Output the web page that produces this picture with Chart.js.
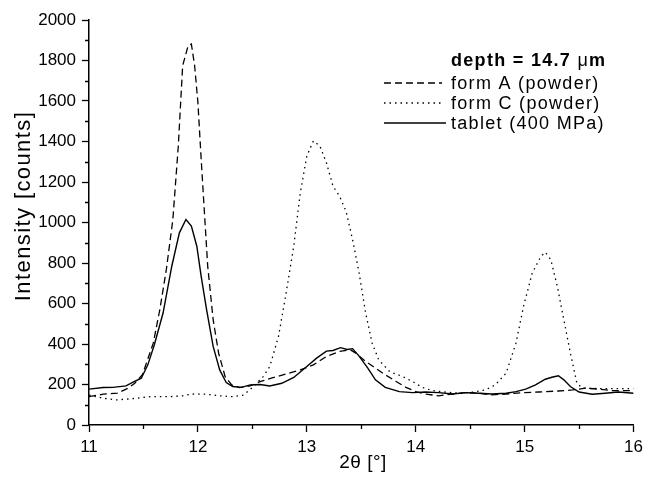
<!DOCTYPE html>
<html>
<head>
<meta charset="utf-8">
<script src="https://cdn.jsdelivr.net/npm/chart.js@4"></script>
<style>
  body { margin: 0; background: #fff; }
  #wrap { width: 648px; height: 480px; }
</style>
</head>
<body>
<div id="wrap"><canvas id="grafico" width="648" height="480"></canvas></div>
<script>
// dados (2theta em graus, intensidade em counts)
var xFormA = [11.0, 11.13, 11.26, 11.36, 11.42, 11.49, 11.59, 11.65, 11.71, 11.77, 11.82, 11.86, 11.91, 11.94, 11.97, 12.0, 12.03, 12.06, 12.09, 12.14, 12.19, 12.25, 12.31, 12.38, 12.48, 12.57, 12.69, 12.81, 12.94, 13.06, 13.18, 13.30, 13.40, 13.45, 13.54, 13.63, 13.72, 13.82, 13.91, 14.0, 14.09, 14.21, 14.34, 14.46, 14.58, 14.70, 14.83, 14.98, 15.13, 15.31, 15.44, 15.56, 15.68, 15.80, 16.0]
var yFormA = [140, 152, 157, 182, 206, 248, 404, 569, 767, 1015, 1378, 1774, 1873, 1881, 1774, 1592, 1312, 1048, 784, 520, 355, 239, 198, 185, 193, 214, 234, 252, 272, 297, 338, 363, 371, 355, 314, 281, 248, 215, 186, 165, 153, 144, 153, 160, 157, 149, 153, 160, 163, 168, 173, 182, 177, 170, 170]

var xFormC = [11.0, 11.13, 11.25, 11.40, 11.56, 11.74, 11.86, 11.95, 12.08, 12.20, 12.32, 12.42, 12.51, 12.60, 12.66, 12.74, 12.81, 12.88, 12.94, 13.0, 13.06, 13.12, 13.18, 13.24, 13.30, 13.36, 13.42, 13.48, 13.54, 13.60, 13.66, 13.76, 13.88, 13.97, 14.06, 14.15, 14.28, 14.40, 14.52, 14.64, 14.73, 14.83, 14.92, 14.99, 15.07, 15.15, 15.19, 15.24, 15.30, 15.36, 15.42, 15.48, 15.53, 15.68, 15.83, 16.0]
var yFormC = [148, 132, 124, 130, 140, 140, 144, 153, 152, 144, 140, 148, 190, 239, 289, 437, 652, 883, 1147, 1328, 1403, 1378, 1295, 1180, 1130, 1056, 916, 751, 553, 404, 322, 264, 239, 215, 186, 170, 162, 157, 162, 173, 198, 256, 404, 586, 751, 833, 853, 817, 685, 520, 355, 206, 182, 180, 180, 180]

var xTablet = [11.0, 11.13, 11.22, 11.34, 11.40, 11.48, 11.54, 11.60, 11.68, 11.76, 11.83, 11.89, 11.94, 11.99, 12.03, 12.08, 12.14, 12.20, 12.26, 12.32, 12.40, 12.48, 12.57, 12.66, 12.77, 12.88, 13.0, 13.09, 13.18, 13.24, 13.31, 13.37, 13.42, 13.48, 13.56, 13.63, 13.72, 13.85, 13.97, 14.09, 14.21, 14.34, 14.46, 14.58, 14.70, 14.83, 14.92, 15.01, 15.10, 15.19, 15.25, 15.31, 15.36, 15.42, 15.50, 15.62, 15.74, 15.86, 16.0]
var yTablet = [177, 185, 186, 193, 210, 231, 297, 396, 553, 784, 949, 1015, 982, 883, 734, 569, 388, 272, 210, 190, 186, 198, 200, 193, 206, 235, 289, 330, 365, 368, 382, 373, 377, 340, 281, 223, 186, 165, 160, 163, 160, 153, 160, 157, 153, 157, 165, 177, 198, 226, 236, 243, 223, 190, 163, 152, 157, 163, 157]

var nomes = ['form A (powder)', 'form C (powder)', 'tablet (400 MPa)']
var tracos = [[7, 4], [1.5, 4], []]
var xMenores = [11.5, 12.5, 13.5, 14.5, 15.5]
var yMenores = [100, 300, 500, 700, 900, 1100, 1300, 1500, 1700, 1900]

var fonte = 'Liberation Sans, Arial, sans-serif'

function pontos(xs, ys) {
    return xs.map(function (x, i) { return { x: x, y: ys[i] } })
}

// legenda, titulos dos eixos e ticks menores
var extras = {
    id: 'extras',
    afterDraw: function (chart) {
        var ctx = chart.ctx
        var sx = chart.scales.x
        var sy = chart.scales.y
        ctx.save()
        ctx.strokeStyle = '#000'
        ctx.lineWidth = 1.3
        ctx.beginPath()
        xMenores.forEach(function (v) {
            var px = Math.round(sx.getPixelForValue(v)) + 0.5
            ctx.moveTo(px, sy.bottom)
            ctx.lineTo(px, sy.bottom + 4)
        })
        yMenores.forEach(function (v) {
            var py = Math.round(sy.getPixelForValue(v)) + 0.5
            ctx.moveTo(sx.left, py)
            ctx.lineTo(sx.left - 4, py)
        })
        ctx.stroke()

        ctx.fillStyle = '#000'
        ctx.textBaseline = 'alphabetic'

        // titulo eixo y
        ctx.save()
        ctx.translate(30, 206)
        ctx.rotate(-Math.PI / 2)
        ctx.font = '22px ' + fonte
        ctx.letterSpacing = '1.4px'
        ctx.textAlign = 'center'
        ctx.fillText('Intensity [counts]', 0, 0)
        ctx.restore()

        // titulo eixo x
        ctx.save()
        ctx.font = '19px ' + fonte
        ctx.letterSpacing = '0.5px'
        ctx.textAlign = 'center'
        ctx.fillText('2θ [°]', 363, 468)
        ctx.restore()

        // legenda
        ctx.save()
        ctx.textAlign = 'left'
        ctx.letterSpacing = '1.3px'
        var x0 = 451
        ctx.font = 'bold 18px ' + fonte
        ctx.fillText('depth = 14.7 ', x0, 66)
        var w = ctx.measureText('depth = 14.7 ').width
        ctx.font = '18px ' + fonte
        ctx.fillText('μ', x0 + w, 66)
        var w2 = ctx.measureText('μ').width
        ctx.font = 'bold 18px ' + fonte
        ctx.fillText('m', x0 + w + w2, 66)

        ctx.font = '18px ' + fonte
        var bases = [89, 109, 129]
        nomes.forEach(function (nome, i) {
            ctx.fillText(nome, x0, bases[i])
            ctx.beginPath()
            ctx.setLineDash(tracos[i])
            ctx.lineWidth = 1.3
            ctx.moveTo(384, bases[i] - 6)
            ctx.lineTo(i == 2 ? 446 : 442, bases[i] - 6)
            ctx.stroke()
        })
        ctx.restore()
        ctx.restore()
    }
}

var series = [pontos(xFormA, yFormA), pontos(xFormC, yFormC), pontos(xTablet, yTablet)]

var config = {
    type: 'line',
    data: {
        datasets: series.map(function (d, i) {
            return {
                label: nomes[i],
                data: d,
                borderColor: '#000',
                borderWidth: i == 2 ? 1.4 : 1.3,
                borderDash: tracos[i],
                pointRadius: 0,
                tension: 0,
                fill: false
            }
        })
    },
    options: {
        responsive: false,
        animation: false,
        layout: { padding: { top: 20, right: 13, left: 0, bottom: 0 } },
        plugins: { legend: { display: false }, tooltip: { enabled: false } },
        scales: {
            x: {
                type: 'linear',
                min: 11,
                max: 16,
                afterFit: function (scale) { scale.height = 55 },
                ticks: {
                    stepSize: 1, color: '#000', padding: 5, maxRotation: 0,
                    font: { family: fonte, size: 17 },
                    callback: function (v) { return String(v) }
                },
                grid: { drawOnChartArea: false, tickLength: 7, tickColor: '#000', tickWidth: 1.3 },
                border: { color: '#000', width: 1.5 }
            },
            y: {
                min: 0,
                max: 2000,
                afterFit: function (scale) { scale.width = 89 },
                ticks: {
                    stepSize: 200, color: '#000', padding: 6,
                    font: { family: fonte, size: 17 },
                    callback: function (v) { return String(v) }
                },
                grid: { drawOnChartArea: false, tickLength: 7, tickColor: '#000', tickWidth: 1.3 },
                border: { color: '#000', width: 1.5 }
            }
        }
    },
    plugins: [extras]
}

var ctxGrafico = document.getElementById('grafico').getContext('2d')
window.myChart = new Chart(ctxGrafico, config)
</script>
</body>
</html>
